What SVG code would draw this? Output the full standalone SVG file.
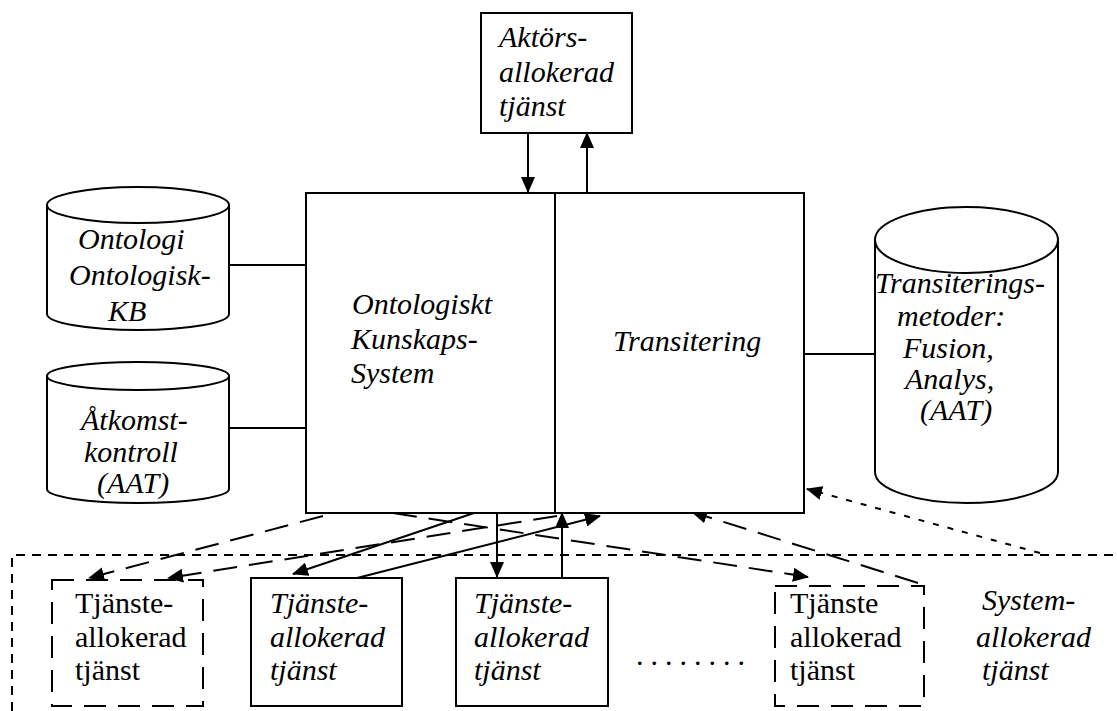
<svg xmlns="http://www.w3.org/2000/svg" width="1117" height="711" viewBox="0 0 1117 711">
  <style>
    .bg { fill: #ffffff; }
    .box { fill: #ffffff; stroke: #000000; stroke-width: 2; }
    .dbox { fill: none; stroke: #000000; stroke-width: 2; stroke-dasharray: 22 12; }
    .sys { fill: none; stroke: #000000; stroke-width: 2; stroke-dasharray: 9 7; }
    .cyl { fill: #ffffff; stroke: #000000; stroke-width: 2; }
    .ln { fill: none; stroke: #000000; stroke-width: 2; }
    .dash { fill: none; stroke: #000000; stroke-width: 2; stroke-dasharray: 24 12; }
    .dot { fill: none; stroke: #000000; stroke-width: 2; stroke-dasharray: 6 9; }
    .ti { font-family: "Liberation Serif", "Times New Roman", serif; font-style: italic; font-size: 30px; fill: #000000; }
    .tr { font-family: "Liberation Serif", "Times New Roman", serif; font-size: 30px; fill: #000000; }
  </style>
  <defs>
    <marker id="arr" viewBox="0 0 16 14" refX="15" refY="7" markerWidth="16" markerHeight="14" markerUnits="userSpaceOnUse" orient="auto">
      <path d="M0,0 L16,7 L0,14 Z" fill="#000000"/>
    </marker>
  </defs>

  <rect class="bg" x="0" y="0" width="1117" height="711"/>

  <!-- system-allocated service area -->
  <g id="system-area">
    <path class="sys" d="M12,711 V555 H1117"/>
    <text class="ti" x="982" y="610">System-</text>
    <text class="ti" x="976" y="647">allokerad</text>
    <text class="ti" x="982" y="680">tjänst</text>
  </g>

  <!-- connectors -->
  <g id="connectors">
    <!-- links between stores and the core -->
    <line class="ln" x1="229" y1="265" x2="306" y2="265"/>
    <line class="ln" x1="229" y1="428" x2="306" y2="428"/>
    <line class="ln" x1="804" y1="354" x2="875" y2="354"/>
    <!-- actor-allocated service -->
    <line class="ln" x1="528" y1="133" x2="528" y2="192" marker-end="url(#arr)"/>
    <line class="ln" x1="587" y1="192" x2="587" y2="133" marker-end="url(#arr)"/>
    <!-- solid links to service boxes -->
    <line class="ln" x1="474" y1="513" x2="293" y2="574" marker-end="url(#arr)"/>
    <line class="ln" x1="357" y1="578" x2="600" y2="516" marker-end="url(#arr)"/>
    <line class="ln" x1="497" y1="513" x2="497" y2="577" marker-end="url(#arr)"/>
    <line class="ln" x1="562" y1="578" x2="562" y2="513" marker-end="url(#arr)"/>
    <!-- dashed links -->
    <line class="dash" x1="323" y1="516" x2="89" y2="578" marker-end="url(#arr)"/>
    <line class="dash" x1="557" y1="516" x2="168" y2="578" marker-end="url(#arr)"/>
    <line class="dash" x1="393" y1="513" x2="808" y2="577" marker-end="url(#arr)"/>
    <line class="dash" x1="918" y1="583" x2="692" y2="512" marker-end="url(#arr)"/>
    <!-- dotted link from system area -->
    <line class="dot" x1="1040" y1="553" x2="807" y2="489" marker-end="url(#arr)"/>
  </g>

  <!-- actor-allocated service -->
  <g id="aktors">
    <rect class="box" x="481" y="13" width="151" height="120"/>
    <text class="ti" x="499" y="47">Aktörs-</text>
    <text class="ti" x="499" y="82">allokerad</text>
    <text class="ti" x="499" y="116">tjänst</text>
  </g>

  <!-- core system -->
  <g id="okb">
    <rect class="box" x="306" y="193" width="249" height="320"/>
    <text class="ti" x="352" y="314">Ontologiskt</text>
    <text class="ti" x="351" y="349">Kunskaps-</text>
    <text class="ti" x="351" y="383">System</text>
  </g>
  <g id="transitering">
    <rect class="box" x="555" y="193" width="249" height="320"/>
    <text class="ti" x="613" y="351">Transitering</text>
  </g>

  <!-- data stores -->
  <g id="ontologi">
    <path class="cyl" d="M47,205 V314 A91,16 0 0 0 229,314 V205 A91,18 0 0 0 47,205 Z"/>
    <path class="ln" d="M47,205 A91,18 0 0 0 229,205"/>
    <text class="ti" x="78" y="249">Ontologi</text>
    <text class="ti" x="69" y="285">Ontologisk-</text>
    <text class="ti" x="108" y="321">KB</text>
  </g>
  <g id="atkomst">
    <path class="cyl" d="M47,376 V489 A91,14 0 0 0 229,489 V376 A91,14 0 0 0 47,376 Z"/>
    <path class="ln" d="M47,376 A91,14 0 0 0 229,376"/>
    <text class="ti" x="81" y="430">Åtkomst-</text>
    <text class="ti" x="84" y="462">kontroll</text>
    <text class="ti" x="97" y="493">(AAT)</text>
  </g>
  <g id="metoder">
    <path class="cyl" d="M875,240 V472 A91.5,31 0 0 0 1058,472 V240 A91.5,33 0 0 0 875,240 Z"/>
    <path class="ln" d="M875,240 A91.5,33 0 0 0 1058,240"/>
    <text class="ti" x="875" y="293">Transiterings-</text>
    <text class="ti" x="897" y="326">metoder:</text>
    <text class="ti" x="903" y="358">Fusion,</text>
    <text class="ti" x="905" y="389">Analys,</text>
    <text class="ti" x="920" y="420">(AAT)</text>
  </g>

  <!-- service-allocated services -->
  <g id="tjanst-1">
    <rect class="dbox" x="52" y="580" width="151" height="126"/>
    <text class="tr" x="75" y="613">Tjänste-</text>
    <text class="tr" x="75" y="647">allokerad</text>
    <text class="tr" x="75" y="680">tjänst</text>
  </g>
  <g id="tjanst-2">
    <rect class="box" x="251" y="578" width="151" height="128"/>
    <text class="ti" x="270" y="613">Tjänste-</text>
    <text class="ti" x="270" y="647">allokerad</text>
    <text class="ti" x="270" y="680">tjänst</text>
  </g>
  <g id="tjanst-3">
    <rect class="box" x="456" y="578" width="152" height="128"/>
    <text class="ti" x="474" y="613">Tjänste-</text>
    <text class="ti" x="474" y="647">allokerad</text>
    <text class="ti" x="474" y="680">tjänst</text>
  </g>
  <g id="ellipsis">
    <text class="tr" x="636" y="665" letter-spacing="7">........</text>
  </g>
  <g id="tjanst-n">
    <rect class="dbox" x="775" y="586" width="149" height="120"/>
    <text class="tr" x="790" y="613">Tjänste</text>
    <text class="tr" x="790" y="647">allokerad</text>
    <text class="tr" x="790" y="680">tjänst</text>
  </g>
</svg>
